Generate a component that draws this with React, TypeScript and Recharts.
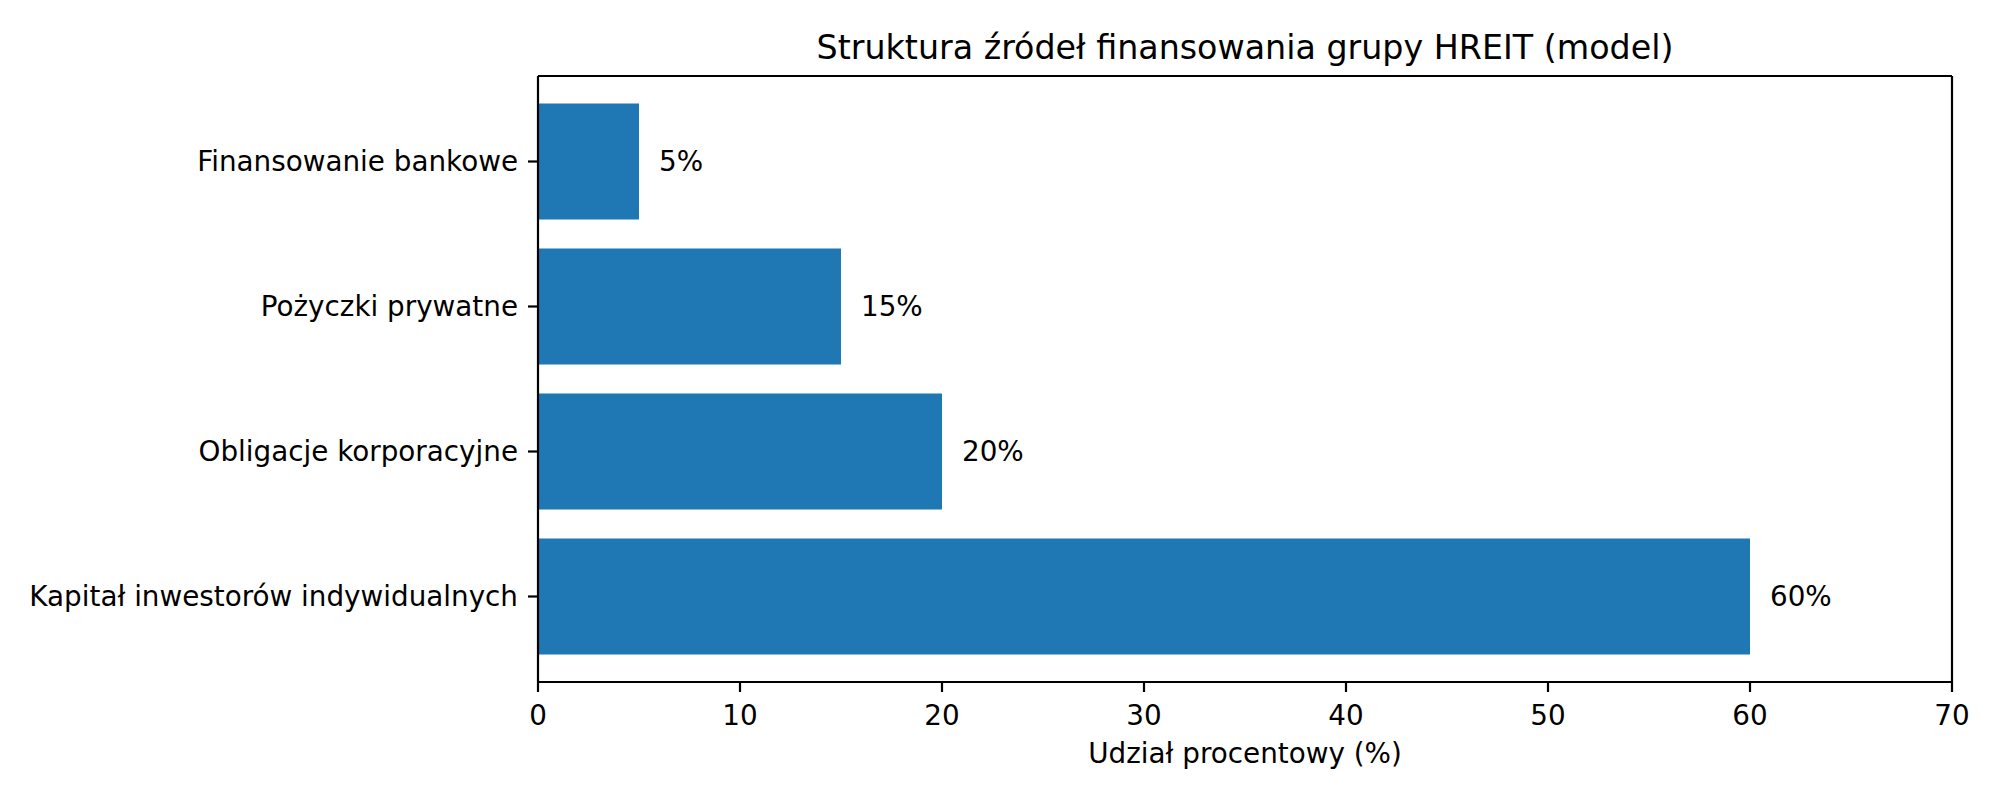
import React from 'react';
import { BarChart, Bar, XAxis, YAxis, LabelList } from 'recharts';

// źródła finansowania, od góry do dołu
const categories = [
  'Finansowanie bankowe',
  'Pożyczki prywatne',
  'Obligacje korporacyjne',
  'Kapitał inwestorów indywidualnych',
];
const shares = [5, 15, 20, 60];
const xTicks = [0, 10, 20, 30, 40, 50, 60, 70];

const title = 'Struktura źródeł finansowania grupy HREIT (model)';
const xLabel = 'Udział procentowy (%)';

const data = categories.map((name, i) => ({ name, value: shares[i] }));

const FONT = '"DejaVu Sans", sans-serif';
const FS = 27.8;
const BLUE = '#1f77b4';
const AXIS = { stroke: '#000', strokeWidth: 2.2 };

export default function App() {
  return (
    <div style={{ position: 'absolute', left: 0, top: 0, width: 2000, height: 800, background: '#fff', fontFamily: FONT }}>
      <BarChart
        width={2000}
        height={800}
        data={data}
        layout="vertical"
        margin={{ top: 75, right: 47, bottom: 0, left: 0 }}
        barCategoryGap="10%"
      >
        <XAxis
          type="number"
          domain={[0, 70]}
          ticks={xTicks}
          interval={0}
          height={118}
          axisLine={AXIS}
          tickLine={AXIS}
          tickSize={10}
          tickMargin={13}
          tick={{ fill: '#000', fontSize: FS, fontFamily: FONT }}
          label={{ value: xLabel, position: 'insideBottom', offset: 37, fill: '#000', fontSize: FS, fontFamily: FONT }}
        />
        {/* górna i prawa krawędź ramki */}
        <XAxis
          xAxisId="top"
          orientation="top"
          type="number"
          domain={[0, 70]}
          ticks={xTicks}
          height={1}
          axisLine={AXIS}
          tickLine={false}
          tick={false}
          label={{ value: title, position: 'top', offset: 16, fill: '#000', fontSize: 33.3, fontFamily: FONT }}
        />
        <YAxis
          type="category"
          dataKey="name"
          width={538}
          padding={{ top: 13, bottom: 13 }}
          axisLine={AXIS}
          tickLine={AXIS}
          tickSize={10}
          tickMargin={10}
          interval={0}
          tick={{ fill: '#000', fontSize: FS, fontFamily: FONT }}
        />
        <YAxis
          yAxisId="right"
          orientation="right"
          type="category"
          dataKey="name"
          width={1}
          axisLine={AXIS}
          tickLine={false}
          tick={false}
        />
        <Bar dataKey="value" fill={BLUE} isAnimationActive={false}>
          <LabelList
            dataKey="value"
            position="right"
            offset={20}
            formatter={(v: number) => `${v}%`}
            style={{ fill: '#000', fontSize: FS, fontFamily: FONT }}
          />
        </Bar>
      </BarChart>
    </div>
  );
}
